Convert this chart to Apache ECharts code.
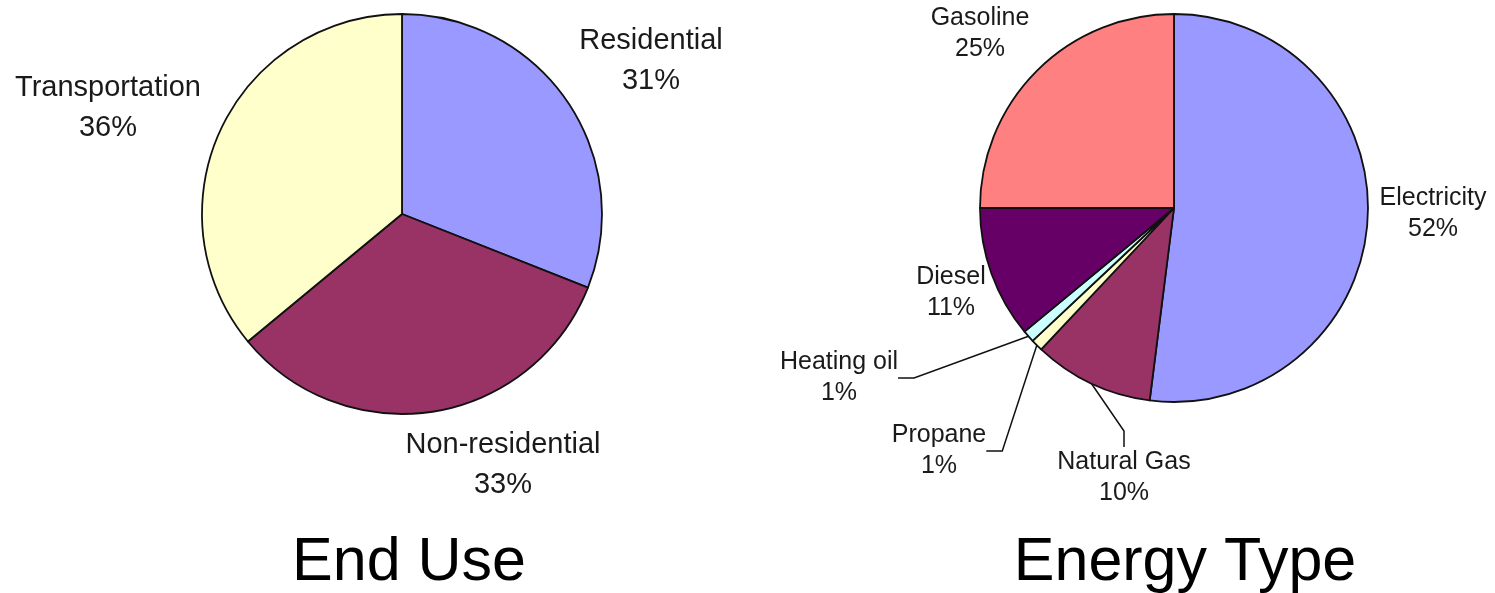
<!DOCTYPE html>
<html>
<head>
<meta charset="utf-8">
<script src="https://cdn.jsdelivr.net/npm/echarts@6/dist/echarts.min.js"></script>
<style>
  html, body { margin: 0; padding: 0; background: #fff; }
  #chart { width: 1495px; height: 593px; }
</style>
</head>
<body>
<div id="chart"></div>
<script>
// End-use breakdown (percent)
const endUseNames = ['Residential', 'Non-residential', 'Transportation'];
const endUseValues = [31, 33, 36];

// Energy-type breakdown (percent), clockwise from 12 o'clock
const energyNames = ['Electricity', 'Natural Gas', 'Propane', 'Heating oil', 'Diesel', 'Gasoline'];
const energyValues = [52, 10, 1, 1, 11, 25];

const titles = ['End Use', 'Energy Type'];

// Slice fills
const endUseColors = ['#9999FF', '#993366', '#FFFFCC'];
const energyColors = ['#9999FF', '#993366', '#FFFFCC', '#CCFFFF', '#660066', '#FF8080'];

// Label anchor points (label centres) for each slice
const endUseLabelPos = [[651, 61], [503, 465], [108, 108]];
const energyLabelPos = [[1433, 214], [1124, 478], [939, 451], [839, 378], [951, 293], [980, 34]];
// Slices whose labels are joined to them by a leader line
const energyLeader = [false, true, true, true, false, false];

const FONT = "'Liberation Sans', Arial, sans-serif";

function buildData(names, values, colors, leader) {
  return names.map((n, i) => ({
    name: n,
    value: values[i],
    itemStyle: { color: colors[i] },
    labelLine: leader && leader[i]
      ? { show: true, length: 10, length2: 16, lineStyle: { color: '#111', width: 1.5 } }
      : { show: false }
  }));
}

const chart = echarts.init(document.getElementById('chart'), null, { renderer: 'canvas' });

const commonSeries = {
  type: 'pie',
  startAngle: 90,
  clockwise: true,
  avoidLabelOverlap: false,
  animation: false,
  silent: true,
  itemStyle: { borderColor: '#111', borderWidth: 1.8 },
  emphasis: { disabled: true }
};

const titleStyle = { fontFamily: FONT, fontSize: 61, fontWeight: 'normal', color: '#000' };

chart.setOption({
  backgroundColor: '#ffffff',
  title: [
    { text: titles[0], left: 404, top: 528, textAlign: 'center', textStyle: titleStyle },
    { text: titles[1], left: 1180, top: 528, textAlign: 'center', textStyle: titleStyle }
  ],
  series: [
    Object.assign({}, commonSeries, {
      center: [402, 214],
      radius: 200,
      data: buildData(endUseNames, endUseValues, endUseColors, null),
      label: {
        show: true, position: 'outside',
        formatter: '{b}\n{c}%',
        fontFamily: FONT, fontSize: 29, lineHeight: 40,
        color: '#1a1a1a', align: 'center'
      },
      labelLayout: function (p) {
        const pos = endUseLabelPos[p.dataIndex];
        return { x: pos[0], y: pos[1], align: 'center', verticalAlign: 'middle' };
      }
    }),
    Object.assign({}, commonSeries, {
      center: [1174, 208],
      radius: 194,
      data: buildData(energyNames, energyValues, energyColors, energyLeader),
      label: {
        show: true, position: 'outside',
        formatter: '{b}\n{c}%',
        fontFamily: FONT, fontSize: 25, lineHeight: 31,
        color: '#1a1a1a', align: 'center'
      },
      labelLayout: function (p) {
        const pos = energyLabelPos[p.dataIndex];
        return { x: pos[0], y: pos[1], align: 'center', verticalAlign: 'middle' };
      }
    })
  ]
});
</script>
</body>
</html>
